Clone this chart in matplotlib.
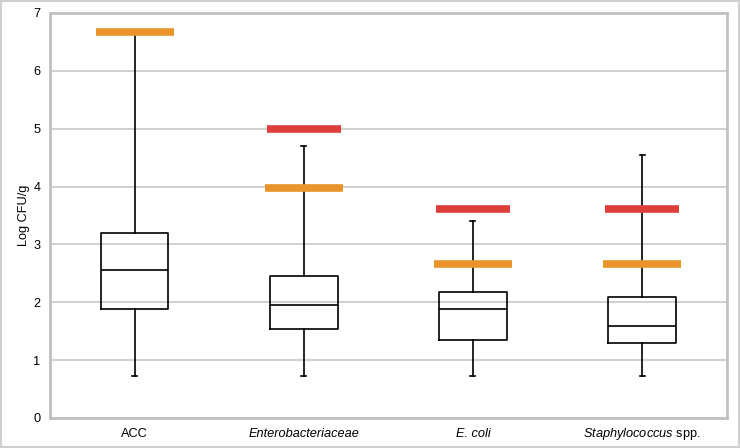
import matplotlib
matplotlib.use('Agg')
from matplotlib import rcParams
rcParams['font.family'] = ['Liberation Sans', 'DejaVu Sans']
rcParams['font.size'] = 9.2
rcParams['mathtext.fontset'] = 'custom'
rcParams['mathtext.it'] = 'Liberation Sans:italic'
rcParams['mathtext.rm'] = 'Liberation Sans'
import matplotlib.pyplot as plt
from matplotlib.patches import Rectangle

categories = ['ACC', 'Enterobacteriaceae', 'E. coli', 'Staphylococcus spp.']
whisker_low = [0.72, 0.72, 0.72, 0.72]
q1 = [1.88, 1.53, 1.34, 1.30]
median = [2.55, 1.95, 1.88, 1.59]
q3 = [3.20, 2.45, 2.18, 2.09]
whisker_high = [6.65, 4.70, 3.40, 4.55]
# limits drawn as thick bars (orange / red); None where missing
limit_orange = [6.68, 3.97, 2.67, 2.67]
limit_red = [None, 5.00, 3.62, 3.62]

fig = plt.figure(figsize=(7.4, 4.48), dpi=100)
ax = fig.add_axes([0.0676, 0.067, 0.9144, 0.904])

stats = []
for i in range(len(categories)):
    stats.append({'whislo': whisker_low[i], 'q1': q1[i], 'med': median[i],
                  'q3': q3[i], 'whishi': whisker_high[i], 'fliers': []})
pos = list(range(len(categories)))
ax.bxp(stats, positions=pos, widths=0.4, showfliers=False, capwidths=0.03,
       boxprops=dict(color='black', lw=1.2),
       medianprops=dict(color='black', lw=1.2),
       whiskerprops=dict(color='black', lw=1.2),
       capprops=dict(color='black', lw=1.2), zorder=3)

for i in pos:
    ax.hlines(limit_orange[i], i - 0.23, i + 0.23, color='#E8962B', lw=5.5, zorder=4)
    if limit_red[i] is not None:
        ax.hlines(limit_red[i], i - 0.22, i + 0.22, color='#DF3F3B', lw=5.5, zorder=4)

ax.set_xlim(-0.5, 3.5)
ax.set_ylim(0, 7)
ax.set_yticks(range(0, 8))
ax.yaxis.grid(True, color='#c8c8c8', lw=1.2)
ax.set_axisbelow(True)
ax.tick_params(axis='y', length=0, pad=7)
ax.tick_params(axis='x', length=0, pad=14)
ax.set_xticks(pos)
labels = ax.set_xticklabels(['ACC', 'Enterobacteriaceae', 'E. coli',
                             r'$\mathit{Staphylococcus}$ spp.'])
labels[1].set_style('italic')
labels[2].set_style('italic')
for lbl in labels:
    lbl.set_verticalalignment('baseline')
ax.set_ylabel('Log CFU/g', labelpad=2.5)
for s in ax.spines.values():
    s.set_color('#c0c0c0')
    s.set_linewidth(2)

fig.patches.append(Rectangle((0.002, 0.002), 0.996, 0.996, transform=fig.transFigure,
                             fill=False, edgecolor='#d0d0d0', lw=1.5))

fig.savefig('out.png', dpi=100)
